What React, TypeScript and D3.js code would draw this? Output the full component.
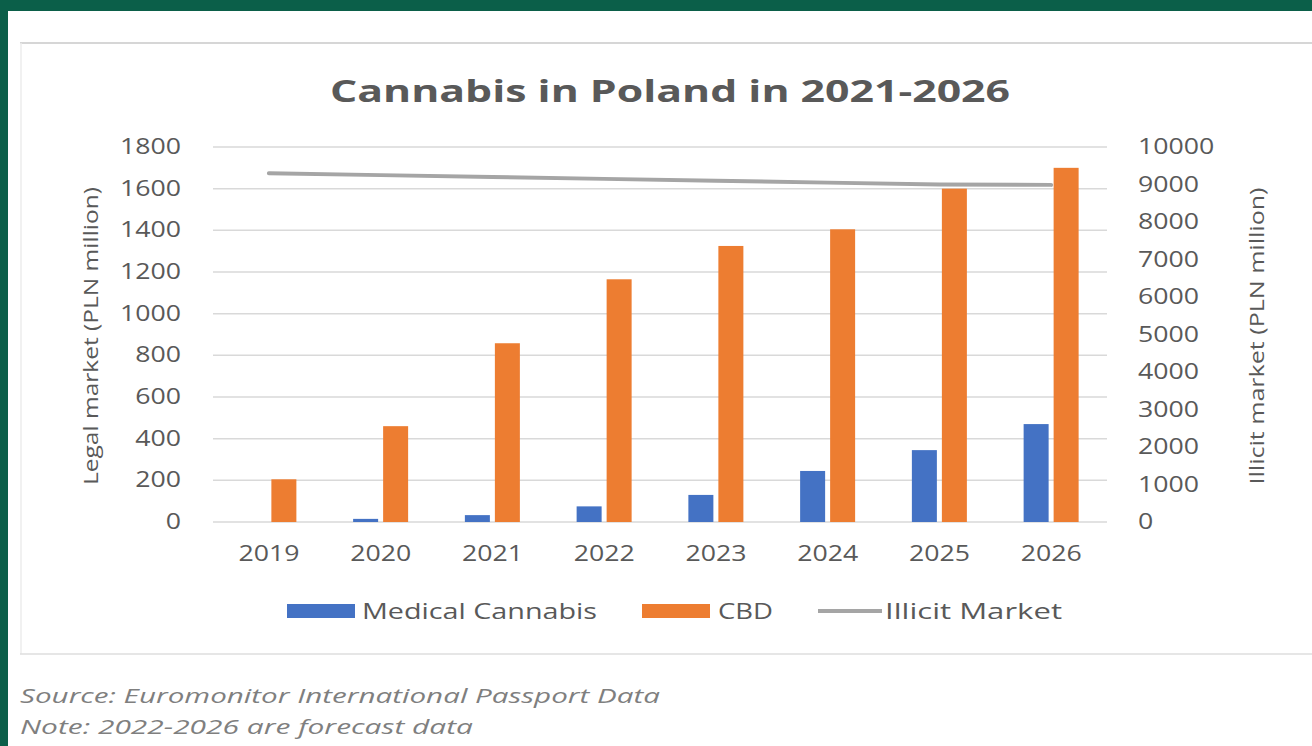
import React from "react";
import * as d3 from "d3";

const years = ["2019", "2020", "2021", "2022", "2023", "2024", "2025", "2026"];
const medicalCannabis = [0, 15, 33, 75, 130, 245, 345, 470];
const cbd = [205, 460, 858, 1165, 1325, 1405, 1600, 1700];
const illicitMarket = [9300, 9250, 9200, 9150, 9100, 9050, 9000, 8990];
const leftTicks = [0, 200, 400, 600, 800, 1000, 1200, 1400, 1600, 1800];
const rightTicks = [0, 1000, 2000, 3000, 4000, 5000, 6000, 7000, 8000, 9000, 10000];

const W = 1312;
const H = 746;
const TXT = "#595959";
const SX = 1.27;
const FONT = "'Open Sans', 'Noto Sans', sans-serif";

function ST({ x, y, sx = SX, anchor = "start", size = 20, fill = TXT, weight = 400, style = "normal", children }: any) {
  return (
    <text
      transform={`translate(${x},${y}) scale(${sx},1)`}
      textAnchor={anchor}
      fontSize={size}
      fill={fill}
      fontWeight={weight}
      fontStyle={style}
      fontFamily={FONT}
    >
      {children}
    </text>
  );
}

function LT({ x, y, len, children }: any) {
  return (
    <text x={x} y={y} fontSize={21} fill={TXT} fontFamily={FONT} textLength={len} lengthAdjust="spacingAndGlyphs">
      {children}
    </text>
  );
}

export default function App() {
  const x = d3.scaleBand<string>().domain(years).range([213, 1107]).padding(0);
  const yL = d3.scaleLinear().domain([0, 1800]).range([522, 147]);
  const yR = d3.scaleLinear().domain([0, 10000]).range([522, 147]);
  const bw = 25;
  const gap = 5;
  const cx = (yr: string) => (x(yr) as number) + x.bandwidth() / 2;
  const line = d3
    .line<number>()
    .x((_, i) => cx(years[i]))
    .y((d) => yR(d));

  return (
    <svg width={W} height={H} style={{ position: "fixed", left: 0, top: 0 }}>
      <rect x={0} y={0} width={W} height={H} fill="#0b5f49" />
      <rect x={8} y={11} width={W - 8} height={H - 11} fill="#ffffff" />
      {/* chart frame */}
      <line x1={20} x2={W} y1={43} y2={43} stroke="#d6d6d6" strokeWidth={2} />
      <line x1={21} x2={21} y1={43} y2={654} stroke="#ececec" strokeWidth={1.5} />
      <line x1={20} x2={W} y1={654} y2={654} stroke="#dedede" strokeWidth={1.5} />

      {/* title */}
      <text x={670} y={102} textAnchor="middle" fontSize={31} fontWeight={700} fill={TXT} fontFamily={FONT} textLength={680} lengthAdjust="spacingAndGlyphs">
        Cannabis in Poland in 2021-2026
      </text>

      {/* gridlines */}
      {leftTicks.map((t) => (
        <line key={t} x1={213} x2={1107} y1={yL(t)} y2={yL(t)} stroke="#d9d9d9" strokeWidth={1.5} />
      ))}

      {/* left ticks */}
      {leftTicks.map((t) => (
        <ST key={"l" + t} x={181} y={yL(t) + 7} anchor="end" size={21}>
          {t}
        </ST>
      ))}
      {/* right ticks */}
      {rightTicks.map((t) => (
        <ST key={"r" + t} x={1138} y={yR(t) + 7} anchor="start" size={21}>
          {t}
        </ST>
      ))}

      {/* axis titles */}
      <text transform={`translate(98,336) rotate(-90)`} textAnchor="middle" fontSize={20} fill={TXT} fontFamily={FONT} textLength={298} lengthAdjust="spacingAndGlyphs">
        Legal market (PLN million)
      </text>
      <text transform={`translate(1264,336) rotate(-90)`} textAnchor="middle" fontSize={20} fill={TXT} fontFamily={FONT} textLength={297} lengthAdjust="spacingAndGlyphs">
        Illicit market (PLN million)
      </text>

      {/* bars */}
      {years.map((yr, i) => (
        <g key={yr}>
          {medicalCannabis[i] > 0 && (
            <rect x={cx(yr) - gap / 2 - bw} y={yL(medicalCannabis[i])} width={bw} height={yL(0) - yL(medicalCannabis[i])} fill="#4472c4" />
          )}
          <rect x={cx(yr) + gap / 2} y={yL(cbd[i])} width={bw} height={yL(0) - yL(cbd[i])} fill="#ed7d31" />
        </g>
      ))}

      {/* illicit line */}
      <path d={line(illicitMarket) || ""} fill="none" stroke="#a5a5a5" strokeWidth={4} strokeLinecap="round" />

      {/* x labels */}
      {years.map((yr) => (
        <ST key={"x" + yr} x={cx(yr)} y={561} anchor="middle" size={21}>
          {yr}
        </ST>
      ))}

      {/* legend */}
      <rect x={287} y={604} width={68} height={14} fill="#4472c4" />
      <LT x={362} y={619} len={235}>Medical Cannabis</LT>
      <rect x={642} y={604} width={68} height={14} fill="#ed7d31" />
      <LT x={718} y={619} len={55}>CBD</LT>
      <line x1={818} x2={882} y1={611} y2={611} stroke="#a5a5a5" strokeWidth={4} />
      <LT x={885} y={619} len={177}>Illicit Market</LT>

      {/* source */}
      <text x={20} y={703} fontSize={20} fontStyle="italic" fill="#7f7f7f" fontFamily={FONT} textLength={640} lengthAdjust="spacingAndGlyphs">
        Source: Euromonitor International Passport Data
      </text>
      <text x={20} y={734} fontSize={20} fontStyle="italic" fill="#7f7f7f" fontFamily={FONT} textLength={453} lengthAdjust="spacingAndGlyphs">
        Note: 2022-2026 are forecast data
      </text>
    </svg>
  );
}
